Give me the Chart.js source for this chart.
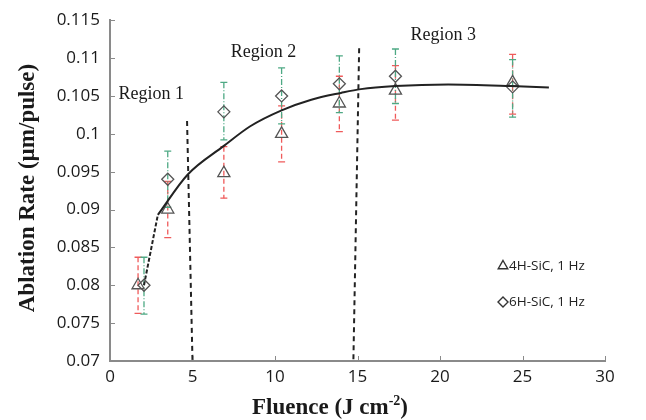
<!DOCTYPE html>
<html>
<head>
<meta charset="utf-8">
<script src="https://cdn.jsdelivr.net/npm/chart.js@4/dist/chart.umd.min.js"></script>
<style>
  html, body { margin: 0; padding: 0; background: #fff; }
</style>
</head>
<body>
<canvas id="ablationChart" width="646" height="420"></canvas>
<script>
// Values
const seriesNames = ['4H-SiC, 1 Hz', '6H-SiC, 1 Hz'];

const fluence4H = [1.7, 3.5, 6.9, 10.4, 13.9, 17.3, 24.4];
const rate4H    = [0.0800, 0.0900, 0.0948, 0.1000, 0.1040, 0.1057, 0.1068];
const err4HHigh = [0.0837, 0.0937, 0.0983, 0.1037, 0.1076, 0.1090, 0.1105];
const err4HLow  = [0.0763, 0.0863, 0.0915, 0.0963, 0.1003, 0.1018, 0.1026];

const fluence6H = [2.06, 3.5, 6.9, 10.4, 13.9, 17.3, 24.4];
const rate6H    = [0.0800, 0.0940, 0.1029, 0.1050, 0.1066, 0.1076, 0.1062];
const err6HHigh = [0.0837, 0.0977, 0.1068, 0.1087, 0.1103, 0.1112, 0.1098];
const err6HLow  = [0.0762, 0.0903, 0.0992, 0.1013, 0.1028, 0.1040, 0.1022];

// fitted trend
const fitDashX = [2.06, 2.9];
const fitDashY = [0.0800, 0.0893];
const fitX = [2.9, 4.7, 6.9, 8.5, 10.4, 12.2, 14.0, 15.2, 17.3, 20.5, 24.3, 26.6];
const fitY = [0.0893, 0.0946, 0.0984, 0.1010, 0.1031, 0.1045, 0.1054, 0.1059, 0.1063, 0.1065, 0.1063, 0.1061];

// region boundaries (dashed lines)
const boundary1X = [4.67, 5.0];
const boundary1Y = [0.1017, 0.07];
const boundary2X = [15.1, 14.75];
const boundary2Y = [0.1113, 0.07];

const regionNames = ['Region 1', 'Region 2', 'Region 3'];

const xTicks = [0, 5, 10, 15, 20, 25, 30];
const yTicks = [0.07, 0.075, 0.08, 0.085, 0.09, 0.095, 0.1, 0.105, 0.11, 0.115];
const yTickLabels = ['0.07', '0.075', '0.08', '0.085', '0.09', '0.095', '0.1', '0.105', '0.11', '0.115'];

const toXY = (xs, ys) => xs.map((v, i) => ({x: v, y: ys[i]}));

// where the region names sit, in data units
const regionAnchors = [
  {x: 2.5, y: 0.1052},
  {x: 9.3, y: 0.1108},
  {x: 20.2, y: 0.1130}
];

const axisGrey = '#8a8a8a';
const textColor = '#1a1a1a';

// error bars, inward tick marks, titles, legend and region names
const extras = {
  id: 'extras',
  beforeDatasetsDraw(chart) {
    const {ctx, scales: {x, y}} = chart;
    const bars = [
      {xs: fluence4H, hi: err4HHigh, lo: err4HLow, color: '#ef5b5b', dash: [5, 3]},
      {xs: fluence6H, hi: err6HHigh, lo: err6HLow, color: '#4ea984', dash: [6, 2, 1, 2]}
    ];
    ctx.save();
    ctx.lineWidth = 1.3;
    bars.forEach(b => {
      ctx.strokeStyle = b.color;
      b.xs.forEach((fx, i) => {
        const px = x.getPixelForValue(fx);
        const top = y.getPixelForValue(b.hi[i]);
        const bot = y.getPixelForValue(b.lo[i]);
        ctx.setLineDash(b.dash);
        ctx.beginPath();
        ctx.moveTo(px, top);
        ctx.lineTo(px, bot);
        ctx.stroke();
        ctx.setLineDash([]);
        ctx.beginPath();
        ctx.moveTo(px - 3.5, top); ctx.lineTo(px + 3.5, top);
        ctx.moveTo(px - 3.5, bot); ctx.lineTo(px + 3.5, bot);
        ctx.stroke();
      });
    });
    ctx.restore();
  },
  afterDraw(chart) {
    const {ctx, chartArea, scales: {x, y}} = chart;
    ctx.save();
    // tick marks pointing inside
    ctx.strokeStyle = axisGrey;
    ctx.lineWidth = 1;
    ctx.beginPath();
    xTicks.forEach(v => {
      const px = Math.round(x.getPixelForValue(v)) + 0.5;
      ctx.moveTo(px, chartArea.bottom);
      ctx.lineTo(px, chartArea.bottom - 5);
    });
    yTicks.forEach(v => {
      const py = Math.round(y.getPixelForValue(v)) + 0.5;
      ctx.moveTo(chartArea.left, py);
      ctx.lineTo(chartArea.left + 5, py);
    });
    ctx.stroke();

    // region names
    ctx.fillStyle = textColor;
    ctx.font = '18px "Liberation Serif", serif';
    ctx.textAlign = 'center';
    ctx.textBaseline = 'middle';
    regionNames.forEach((name, i) => {
      ctx.fillText(name, x.getPixelForValue(regionAnchors[i].x), y.getPixelForValue(regionAnchors[i].y));
    });

    // y axis title
    ctx.save();
    ctx.translate(28, 188);
    ctx.rotate(-Math.PI / 2);
    ctx.font = 'bold 23px "Liberation Serif", serif';
    ctx.fillText('Ablation Rate (\u00b5m/pulse)', 0, 0);
    ctx.restore();

    // x axis title with superscript
    const main = 'Fluence (J cm';
    const sup = '-2';
    const tail = ')';
    ctx.textBaseline = 'alphabetic';
    ctx.textAlign = 'left';
    ctx.font = 'bold 23px "Liberation Serif", serif';
    const wMain = ctx.measureText(main).width;
    const wTail = ctx.measureText(tail).width;
    ctx.font = 'bold 14px "Liberation Serif", serif';
    const wSup = ctx.measureText(sup).width;
    let tx = 330 - (wMain + wSup + wTail) / 2;
    const base = 414;
    ctx.font = 'bold 23px "Liberation Serif", serif';
    ctx.fillText(main, tx, base);
    tx += wMain;
    ctx.font = 'bold 14px "Liberation Serif", serif';
    ctx.fillText(sup, tx, base - 9);
    tx += wSup;
    ctx.font = 'bold 23px "Liberation Serif", serif';
    ctx.fillText(tail, tx, base);

    // legend inside the plot
    const legendRows = [
      {style: 'triangle', radius: 5.5, y: 266},
      {style: 'rectRot', radius: 5, y: 302}
    ];
    ctx.font = '13.5px "Open Sans", sans-serif';
    ctx.textBaseline = 'middle';
    legendRows.forEach((row, i) => {
      ctx.strokeStyle = '#333';
      ctx.fillStyle = 'rgba(0,0,0,0)';
      ctx.lineWidth = 1.4;
      Chart.helpers.drawPoint(ctx, {pointStyle: row.style, radius: row.radius, borderWidth: 1.4, rotation: 0}, 503, row.y);
      ctx.fillStyle = '#222';
      ctx.fillText(seriesNames[i], 509, row.y);
    });
    ctx.restore();
  }
};

const data = {
  datasets: [
    {
      label: 'fit-dash',
      data: toXY(fitDashX, fitDashY),
      showLine: true,
      borderColor: '#222',
      borderWidth: 2,
      borderDash: [4, 2],
      pointRadius: 0
    },
    {
      label: 'fit',
      data: toXY(fitX, fitY),
      showLine: true,
      borderColor: '#222',
      borderWidth: 2,
      cubicInterpolationMode: 'monotone',
      pointRadius: 0
    },
    {
      label: 'boundary-1',
      data: toXY(boundary1X, boundary1Y),
      showLine: true,
      borderColor: '#222',
      borderWidth: 2,
      borderDash: [5, 4],
      pointRadius: 0
    },
    {
      label: 'boundary-2',
      data: toXY(boundary2X, boundary2Y),
      showLine: true,
      borderColor: '#222',
      borderWidth: 2,
      borderDash: [5, 4],
      pointRadius: 0
    },
    {
      label: seriesNames[0],
      data: toXY(fluence4H, rate4H),
      pointStyle: 'triangle',
      pointRadius: 7,
      borderColor: '#555',
      borderWidth: 1.3,
      backgroundColor: 'rgba(255,255,255,0)'
    },
    {
      label: seriesNames[1],
      data: toXY(fluence6H, rate6H),
      pointStyle: 'rectRot',
      pointRadius: 6,
      borderColor: '#555',
      borderWidth: 1.3,
      backgroundColor: 'rgba(255,255,255,0)'
    }
  ]
};

const config = {
  type: 'scatter',
  data: data,
  options: {
    responsive: false,
    animation: false,
    devicePixelRatio: 1,
    layout: { padding: { left: 0, top: 19, right: 41, bottom: 0 } },
    plugins: {
      legend: { display: false },
      tooltip: { enabled: false }
    },
    scales: {
      x: {
        type: 'linear',
        min: 0,
        max: 30,
        afterBuildTicks: s => { s.ticks = xTicks.map(v => ({value: v})); },
        afterFit: s => { s.height = 59; },
        grid: { display: false, drawTicks: false },
        border: { color: axisGrey, width: 2 },
        ticks: {
          padding: 6,
          color: textColor,
          font: { family: '"Open Sans", sans-serif', size: 17 }
        }
      },
      y: {
        type: 'linear',
        min: 0.07,
        max: 0.115,
        afterBuildTicks: s => { s.ticks = yTicks.map(v => ({value: v})); },
        afterFit: s => { s.width = 110; },
        grid: { display: false, drawTicks: false },
        border: { color: axisGrey, width: 2 },
        ticks: {
          padding: 10,
          color: textColor,
          font: { family: '"Open Sans", sans-serif', size: 17 },
          callback: (v, i) => yTickLabels[i]
        }
      }
    }
  },
  plugins: [extras]
};

window.addEventListener('DOMContentLoaded', () => {
  new Chart(document.getElementById('ablationChart'), config);
});
</script>
</body>
</html>
